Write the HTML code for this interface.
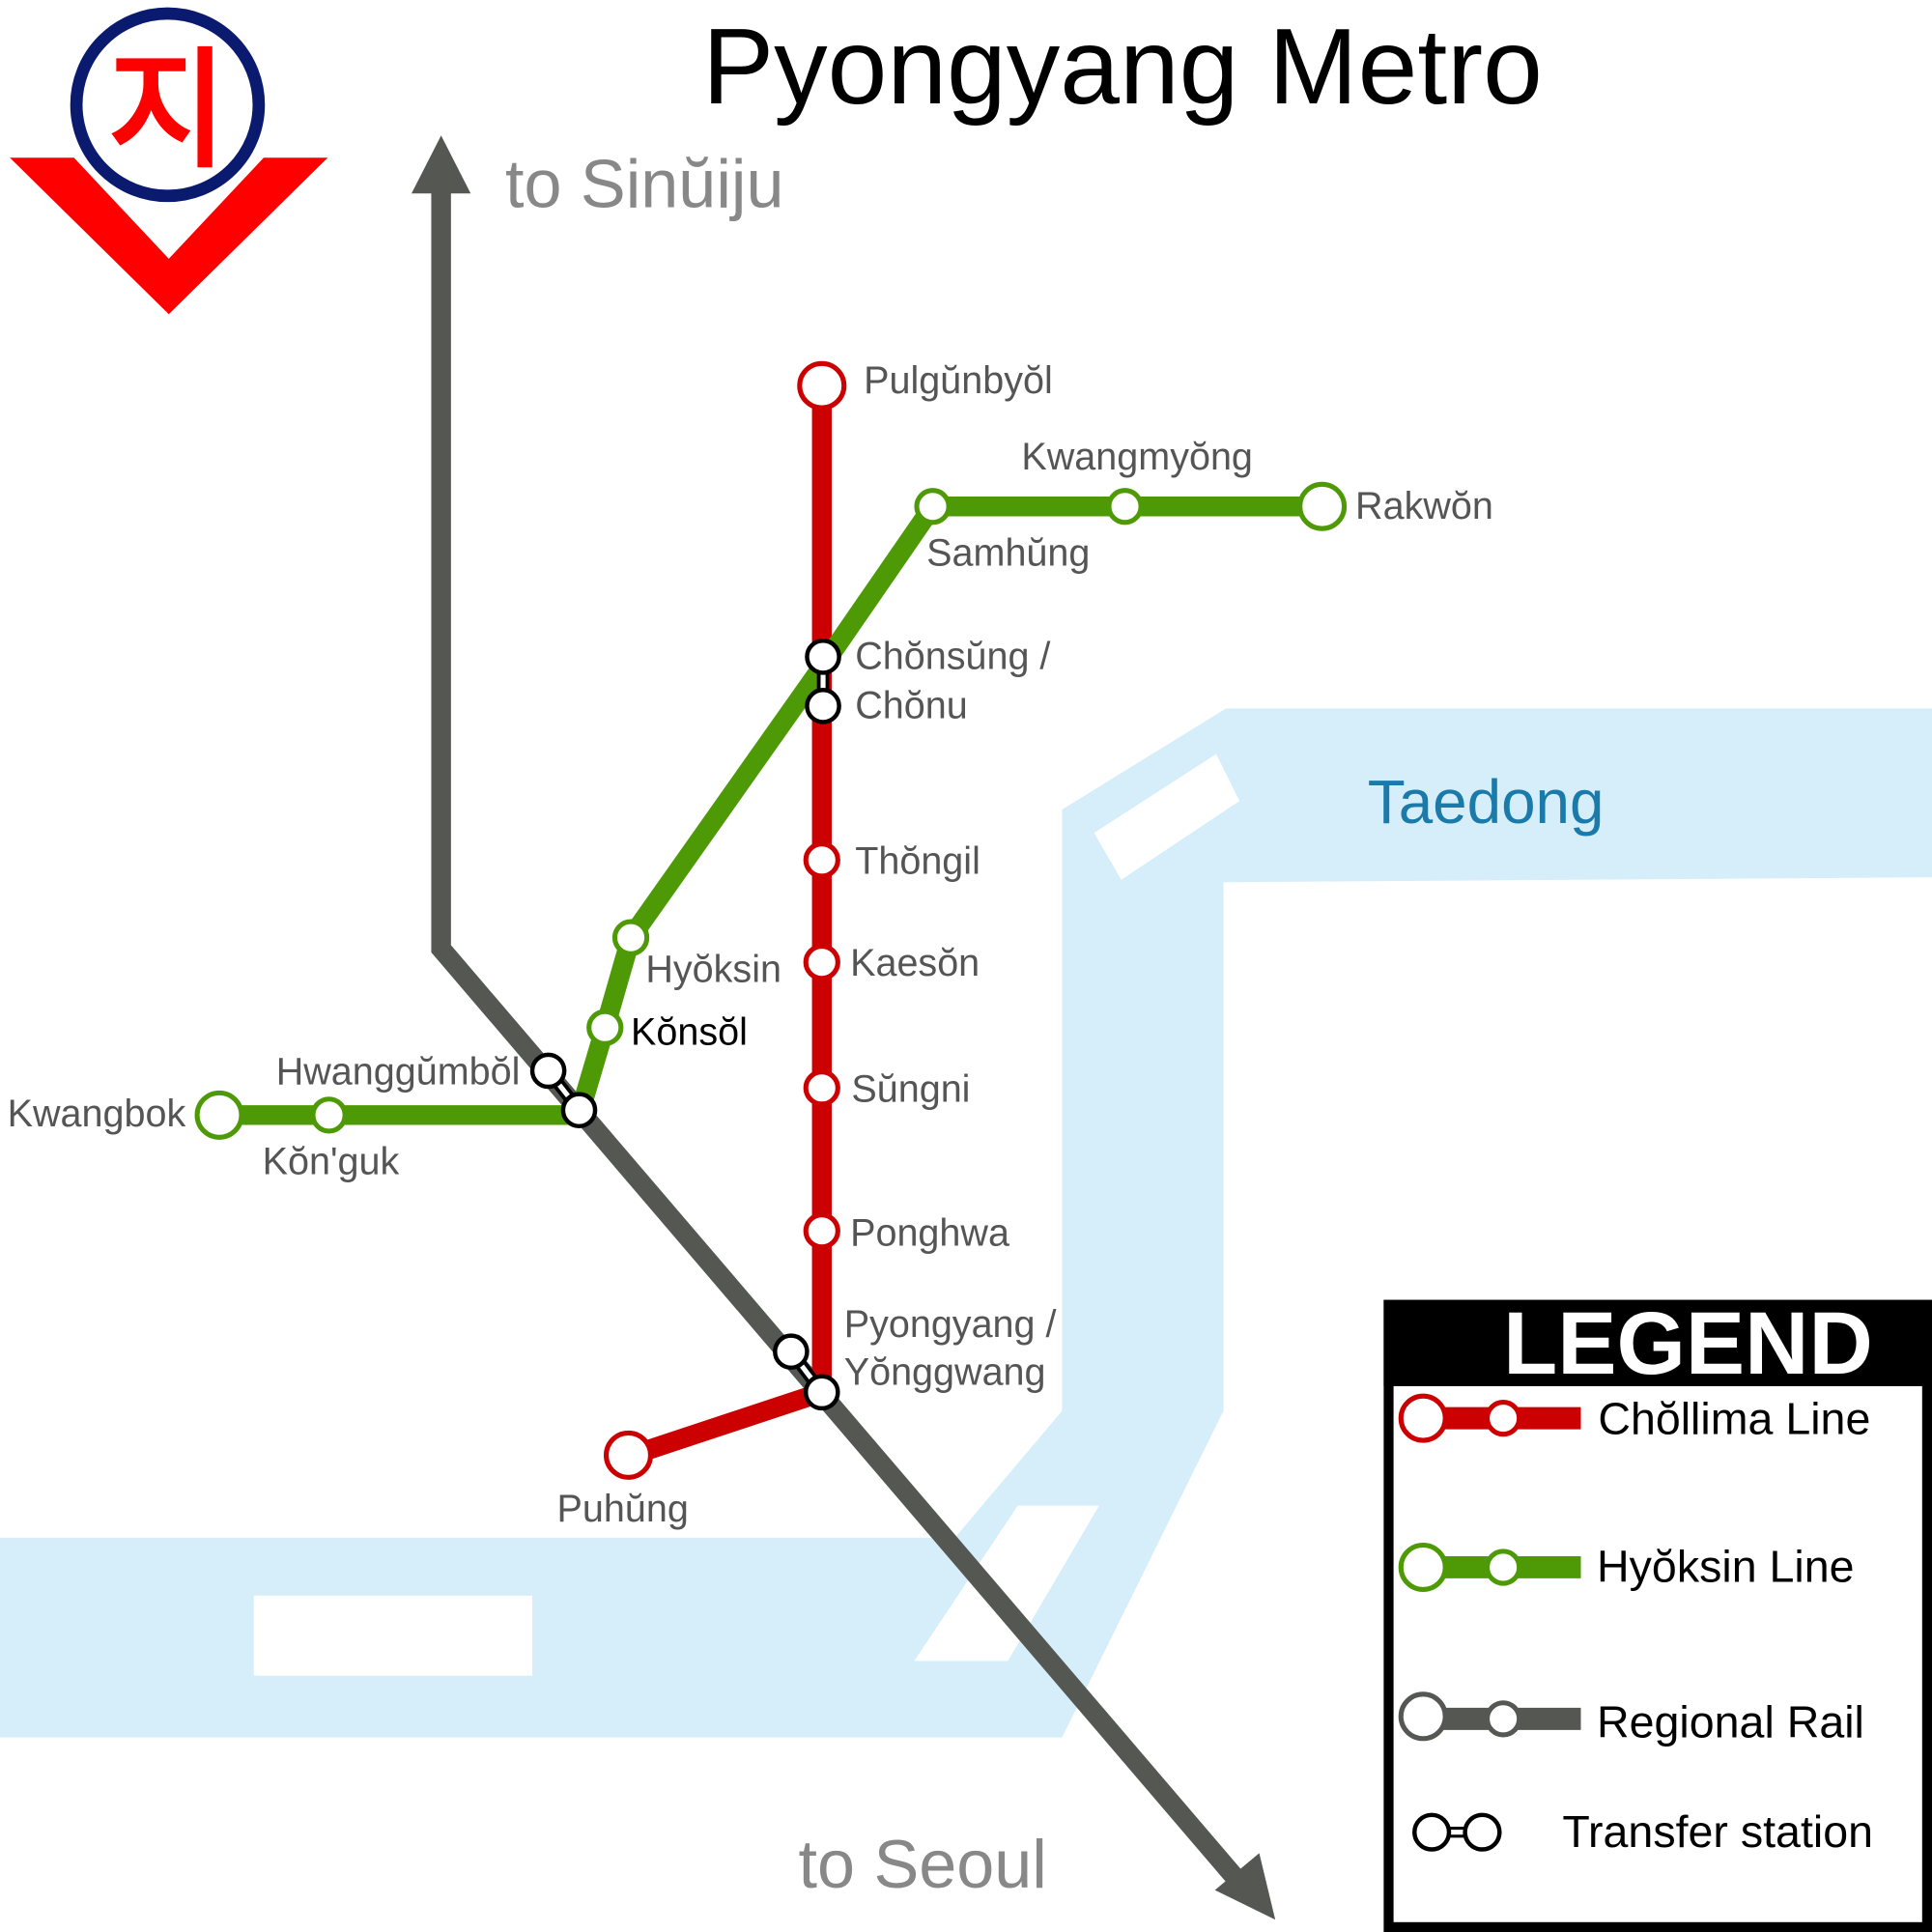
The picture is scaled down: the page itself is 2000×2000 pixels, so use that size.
<!DOCTYPE html>
<html><head><meta charset="utf-8"><style>
html,body{margin:0;padding:0;background:#fff;}
svg{display:block;}
text{font-family:"Liberation Sans","DejaVu Sans",sans-serif;}
</style></head><body>
<svg width="2000" height="2000" viewBox="0 0 1568 1568" xmlns="http://www.w3.org/2000/svg">
<rect width="1568" height="1568" fill="#fff"/>
<polygon fill="#d6eef9" points="862,657 995,575 1568,575 1568,712 993,716 993,1145 862,1410 0,1410 0,1248 775,1248 862,1145"/>
<polygon fill="#fff" points="888,676 987,612 1006,650 910,714"/>
<rect x="206" y="1295" width="226" height="65" fill="#fff"/>
<polygon fill="#fff" points="826,1222 892,1222 818,1348 742,1348"/>
<text x="1110" y="668" font-size="50" fill="#1a7aaa">Taedong</text>
<polygon fill="#ff0000" points="8,128 60,128 137,210 214,128 266,128 137,255"/>
<circle cx="136" cy="85" r="74" fill="#fff" stroke="#0a1a6e" stroke-width="10"/>
<text x="136" y="126" font-size="105" font-weight="bold" fill="#ff0000" text-anchor="middle" font-family="'Noto Sans CJK KR','NanumGothic',sans-serif">지</text>
<text x="911" y="84" font-size="87" text-anchor="middle" fill="#000">Pyongyang Metro</text>
<polyline points="358,150 358,770 1012,1535" fill="none" stroke="#555753" stroke-width="16"/>
<polygon fill="#555753" points="358,110 334,157 382,157"/>
<polygon fill="#555753" points="1035,1558 986,1534 1022,1504"/>
<text x="410" y="168" font-size="55" fill="#888">to Sinŭiju</text>
<text x="648" y="1532" font-size="55" fill="#888">to Seoul</text>
<g stroke="#cc0000" stroke-width="16" fill="none">
<line x1="667" y1="313" x2="667" y2="1130"/>
<line x1="667" y1="1130" x2="510" y2="1182"/>
</g>
<polyline points="1073,411 757,411 668,540 512,761 491,834 470,905 178,905" fill="none" stroke="#4e9a06" stroke-width="16" stroke-linejoin="round"/>
<g fill="#fff" stroke="#cc0000" stroke-width="4">
<circle cx="667" cy="313" r="18"/>
<circle cx="510" cy="1181" r="18"/>
<circle cx="667" cy="698" r="13"/>
<circle cx="667" cy="781" r="13"/>
<circle cx="667" cy="883" r="13"/>
<circle cx="667" cy="999" r="13"/>
</g>
<g fill="#fff" stroke="#4e9a06" stroke-width="4">
<circle cx="1073" cy="411" r="18"/>
<circle cx="178" cy="905" r="18"/>
<circle cx="913" cy="411" r="13"/>
<circle cx="757" cy="411" r="13"/>
<circle cx="512" cy="761" r="13"/>
<circle cx="491" cy="834" r="13"/>
<circle cx="267" cy="905" r="13"/>
</g>
<g stroke="#000" stroke-width="10"><line x1="668" y1="533" x2="668" y2="573"/><line x1="445" y1="869" x2="470" y2="901"/><line x1="642" y1="1097" x2="667" y2="1130"/></g>
<g stroke="#fff" stroke-width="4"><line x1="668" y1="533" x2="668" y2="573"/><line x1="445" y1="869" x2="470" y2="901"/><line x1="642" y1="1097" x2="667" y2="1130"/></g>
<g fill="#fff" stroke="#000" stroke-width="3.5">
<circle cx="668" cy="533" r="13"/><circle cx="668" cy="573" r="13"/>
<circle cx="445" cy="869" r="13"/><circle cx="470" cy="901" r="13"/>
<circle cx="642" cy="1097" r="13"/><circle cx="667" cy="1130" r="13"/>
</g>
<g font-size="31" fill="#555">
<text x="701" y="319">Pulgŭnbyŏl</text>
<text x="829" y="381">Kwangmyŏng</text>
<text x="1100" y="421">Rakwŏn</text>
<text x="752" y="459">Samhŭng</text>
<text x="694" y="543">Chŏnsŭng /</text>
<text x="694" y="583">Chŏnu</text>
<text x="694" y="709">Thŏngil</text>
<text x="690" y="792">Kaesŏn</text>
<text x="524" y="797">Hyŏksin</text>
<text x="512" y="848" fill="#000">Kŏnsŏl</text>
<text x="224" y="880">Hwanggŭmbŏl</text>
<text x="6" y="914">Kwangbok</text>
<text x="213" y="953">Kŏn'guk</text>
<text x="691" y="894">Sŭngni</text>
<text x="690" y="1011">Ponghwa</text>
<text x="685" y="1085">Pyongyang /</text>
<text x="685" y="1124">Yŏnggwang</text>
<text x="452" y="1235">Puhŭng</text>
</g>
<rect x="1127" y="1059" width="437" height="505" fill="#fff" stroke="#000" stroke-width="8"/>
<rect x="1123" y="1055" width="445" height="70" fill="#000"/>
<text x="1370" y="1115" font-size="72" font-weight="bold" fill="#fff" text-anchor="middle">LEGEND</text>
<line x1="1155" y1="1151" x2="1283" y2="1151" stroke="#cc0000" stroke-width="18"/>
<circle cx="1155" cy="1151" r="18" fill="#fff" stroke="#cc0000" stroke-width="4"/>
<circle cx="1220" cy="1151" r="13" fill="#fff" stroke="#cc0000" stroke-width="4"/>
<line x1="1155" y1="1272" x2="1283" y2="1272" stroke="#4e9a06" stroke-width="18"/>
<circle cx="1155" cy="1272" r="18" fill="#fff" stroke="#4e9a06" stroke-width="4"/>
<circle cx="1220" cy="1272" r="13" fill="#fff" stroke="#4e9a06" stroke-width="4"/>
<line x1="1155" y1="1395" x2="1283" y2="1395" stroke="#555753" stroke-width="18"/>
<circle cx="1155" cy="1393" r="18" fill="#fff" stroke="#555753" stroke-width="4"/>
<circle cx="1220" cy="1395" r="13" fill="#fff" stroke="#555753" stroke-width="4"/>
<line x1="1162" y1="1487" x2="1203" y2="1487" stroke="#000" stroke-width="9"/>
<line x1="1162" y1="1487" x2="1203" y2="1487" stroke="#fff" stroke-width="4"/>
<circle cx="1162" cy="1487" r="14" fill="#fff" stroke="#000" stroke-width="3.5"/>
<circle cx="1203" cy="1487" r="14" fill="#fff" stroke="#000" stroke-width="3.5"/>
<g font-size="36.5" fill="#000">
<text x="1297" y="1164">Chŏllima Line</text>
<text x="1296" y="1284">Hyŏksin Line</text>
<text x="1296" y="1410">Regional Rail</text>
<text x="1268" y="1499">Transfer station</text>
</g>
</svg>
</body></html>
